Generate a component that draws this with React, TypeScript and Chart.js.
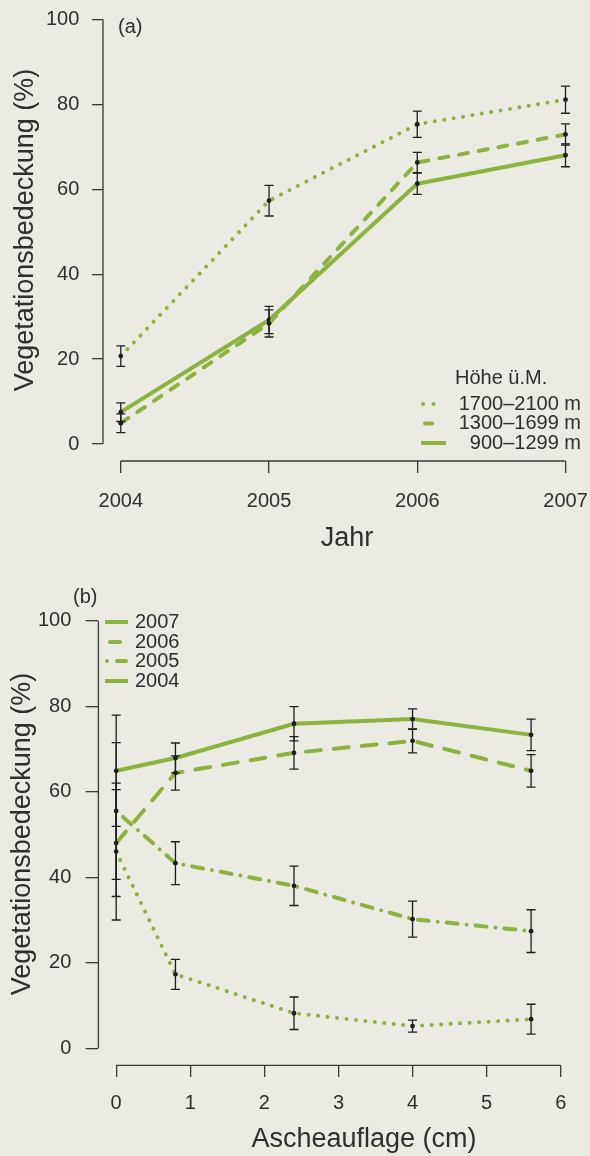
import React, { useEffect, useRef } from 'react';
import { Chart, registerables } from 'chart.js';

Chart.register(...registerables);

const FONT = "'Liberation Sans', Arial, Helvetica, sans-serif";
const GREEN = '#8cb33e';
const INK = '#2e2e2e';
const AXIS = '#3a3a3a';
const BG = '#ebebe4';

// ---------- Panel (a) data ----------
const years = [2004, 2005, 2006, 2007];
const yearTicks = [2004, 2005, 2006, 2007];
const coverTicks = [0, 20, 40, 60, 80, 100];
const altitudeLabels = ['1700–2100 m', '1300–1699 m', '900–1299 m'];
const highMean = [20.7, 57.3, 75.3, 81.1];
const highErr = [2.4, 3.6, 3.1, 3.2];
const midMean = [4.9, 28.4, 66.3, 72.9];
const midErr = [2.2, 3.2, 2.4, 2.5];
const lowMean = [7.5, 29.2, 61.3, 68.0];
const lowErr = [2.2, 3.2, 2.5, 2.7];

// ---------- Panel (b) data ----------
const ashCm = [0, 0.8, 2.4, 4.0, 5.6];
const ashTicks = [0, 1, 2, 3, 4, 5, 6];
const yearLabels = ['2007', '2006', '2005', '2004'];
const cover2007 = [64.9, 67.9, 75.9, 77.0, 73.3];
const err2007 = [13, 3.5, 4, 2.4, 3.7];
const cover2006 = [48.0, 64.4, 69.1, 71.9, 64.9];
const err2006 = [12.5, 4, 3.8, 2.8, 3.8];
const cover2005 = [55.5, 43.3, 38.0, 30.2, 27.4];
const err2005 = [16, 5, 4.6, 4.2, 5];
const cover2004 = [46.0, 17.3, 8.2, 5.2, 6.8];
const err2004 = [16, 3.5, 3.8, 1.4, 3.5];

const DOTTED = [0.01, 9.5];
const DASHED_A = [9, 11];
const DASHED_B = [15, 13];
const DOTDASH = [0.01, 9, 11, 9];

const errorBarPlugin = {
  id: 'errorBars',
  afterDatasetsDraw(chart: any) {
    const ctx = chart.ctx;
    const ys = chart.scales.y;
    ctx.save();
    ctx.strokeStyle = '#1e1e1e';
    ctx.lineWidth = 1.3;
    ctx.setLineDash([]);
    chart.data.datasets.forEach((ds: any, di: number) => {
      const errs = ds.errors;
      if (!errs) return;
      const meta = chart.getDatasetMeta(di);
      meta.data.forEach((pt: any, i: number) => {
        const v = ds.data[i].y;
        const top = ys.getPixelForValue(v + errs[i]);
        const bot = ys.getPixelForValue(v - errs[i]);
        const w = 4.5;
        ctx.beginPath();
        ctx.moveTo(pt.x, top);
        ctx.lineTo(pt.x, bot);
        ctx.moveTo(pt.x - w, top);
        ctx.lineTo(pt.x + w, top);
        ctx.moveTo(pt.x - w, bot);
        ctx.lineTo(pt.x + w, bot);
        ctx.stroke();
      });
    });
    ctx.restore();
  },
};

function sample(ctx: CanvasRenderingContext2D, x1: number, x2: number, y: number, dash: number[], cap: CanvasLineCap) {
  ctx.save();
  ctx.strokeStyle = GREEN;
  ctx.lineWidth = 4;
  ctx.lineCap = cap;
  ctx.setLineDash(dash);
  ctx.beginPath();
  ctx.moveTo(x1, y);
  ctx.lineTo(x2, y);
  ctx.stroke();
  ctx.restore();
}

const decoPlugin = {
  id: 'deco',
  afterDraw(chart: any, _args: any, opts: any) {
    const { ctx, chartArea } = chart;
    const xs = chart.scales.x;
    const ys = chart.scales.y;
    const xt = opts.xTicks;
    const yt = opts.yTicks;
    ctx.save();
    ctx.strokeStyle = AXIS;
    ctx.lineWidth = 1.3;
    ctx.setLineDash([]);
    ctx.beginPath();
    ctx.moveTo(chartArea.left, ys.getPixelForValue(yt[0]));
    ctx.lineTo(chartArea.left, ys.getPixelForValue(yt[yt.length - 1]));
    ctx.moveTo(xs.getPixelForValue(xt[0]), chartArea.bottom);
    ctx.lineTo(xs.getPixelForValue(xt[xt.length - 1]), chartArea.bottom);
    ctx.stroke();

    ctx.fillStyle = INK;
    ctx.font = `27px ${FONT}`;
    ctx.textAlign = 'center';
    ctx.textBaseline = 'alphabetic';
    ctx.fillText(opts.xTitle, opts.xTitlePos[0], opts.xTitlePos[1]);
    ctx.save();
    ctx.translate(opts.yTitlePos[0], opts.yTitlePos[1]);
    ctx.rotate(-Math.PI / 2);
    ctx.fillText(opts.yTitle, 0, 0);
    ctx.restore();

    ctx.font = `20px ${FONT}`;
    ctx.textAlign = 'left';
    ctx.textBaseline = 'middle';
    ctx.fillText(opts.panel, opts.panelPos[0], opts.panelPos[1]);

    opts.legend(ctx);
    ctx.restore();
  },
};

function axisScale(min: number, max: number, ticksArr: number[], opts: any) {
  return {
    type: 'linear',
    min,
    max,
    bounds: 'data',
    afterBuildTicks: (s: any) => {
      s.ticks = ticksArr.map((v) => ({ value: v }));
    },
    afterFit: opts.afterFit,
    grid: {
      display: true,
      drawOnChartArea: false,
      drawTicks: true,
      tickLength: opts.tickLength,
      color: AXIS,
      lineWidth: 1.3,
    },
    border: { display: false },
    ticks: {
      padding: opts.padding,
      color: INK,
      autoSkip: false,
      maxRotation: 0,
      font: { family: FONT, size: 20 },
      callback: (v: any) => String(v),
    },
    title: { display: false },
  };
}

function lineDs(label: string, xs: number[], ys: number[], errs: number[], dash: number[], cap: string) {
  return {
    label,
    data: xs.map((x, i) => ({ x, y: ys[i] })),
    errors: errs,
    borderColor: GREEN,
    borderWidth: 4,
    borderDash: dash,
    borderCapStyle: cap,
    borderJoinStyle: 'round',
    tension: 0,
    fill: false,
    pointRadius: 2.4,
    pointBackgroundColor: '#1e1e1e',
    pointBorderWidth: 0,
    pointHoverRadius: 2.4,
  };
}

function configA(): any {
  return {
    type: 'line',
    data: {
      datasets: [
        lineDs(altitudeLabels[0], years, highMean, highErr, DOTTED, 'round'),
        lineDs(altitudeLabels[1], years, midMean, midErr, DASHED_A, 'round'),
        lineDs(altitudeLabels[2], years, lowMean, lowErr, [], 'butt'),
      ],
    },
    options: {
      responsive: false,
      animation: false,
      events: [],
      layout: { padding: { top: 2, left: 0, right: 6.7, bottom: 19 } },
      scales: {
        x: axisScale(2003.88, 2007.12, yearTicks, {
          tickLength: 12,
          padding: 16,
          afterFit: (s: any) => {
            s.height = 100;
            s.paddingLeft = 0;
            s.paddingRight = 0;
          },
        }),
        y: axisScale(-4, 104, coverTicks, {
          tickLength: 11,
          padding: 12.7,
          afterFit: (s: any) => {
            s.width = 103;
            s.paddingTop = 0;
            s.paddingBottom = 0;
          },
        }),
      },
      plugins: {
        legend: { display: false },
        tooltip: { enabled: false },
        deco: {
          xTicks: yearTicks,
          yTicks: coverTicks,
          xTitle: 'Jahr',
          xTitlePos: [347, 546],
          yTitle: 'Vegetationsbedeckung (%)',
          yTitlePos: [33, 230],
          panel: '(a)',
          panelPos: [118, 27],
          legend: (ctx: CanvasRenderingContext2D) => {
            ctx.fillStyle = INK;
            ctx.font = `20px ${FONT}`;
            ctx.textBaseline = 'middle';
            ctx.textAlign = 'left';
            ctx.fillText('Höhe ü.M.', 455, 378.5);
            ctx.textAlign = 'right';
            const rows = [404, 423.5, 443];
            altitudeLabels.forEach((t, i) => ctx.fillText(t, 581, rows[i]));
            sample(ctx, 423, 444, rows[0], [0.01, 10.5], 'round');
            sample(ctx, 425, 432, rows[1], [], 'round');
            sample(ctx, 421, 446, rows[2], [], 'butt');
          },
        },
      },
    },
    plugins: [errorBarPlugin, decoPlugin],
  };
}

function configB(): any {
  return {
    type: 'line',
    data: {
      datasets: [
        lineDs(yearLabels[0], ashCm, cover2007, err2007, [], 'butt'),
        lineDs(yearLabels[1], ashCm, cover2006, err2006, DASHED_B, 'round'),
        lineDs(yearLabels[2], ashCm, cover2005, err2005, DOTDASH, 'round'),
        lineDs(yearLabels[3], ashCm, cover2004, err2004, DOTTED, 'round'),
      ],
    },
    options: {
      responsive: false,
      animation: false,
      events: [],
      layout: { padding: { top: 23.6, left: 0, right: 11.5, bottom: 0 } },
      scales: {
        x: axisScale(-0.24, 6.24, ashTicks, {
          tickLength: 11.5,
          padding: 15,
          afterFit: (s: any) => {
            s.height = 90.6;
            s.paddingLeft = 0;
            s.paddingRight = 0;
          },
        }),
        y: axisScale(-4, 104, coverTicks, {
          tickLength: 12.8,
          padding: 14.3,
          afterFit: (s: any) => {
            s.width = 98.4;
            s.paddingTop = 0;
            s.paddingBottom = 0;
          },
        }),
      },
      plugins: {
        legend: { display: false },
        tooltip: { enabled: false },
        deco: {
          xTicks: ashTicks,
          yTicks: coverTicks,
          xTitle: 'Ascheauflage (cm)',
          xTitlePos: [364, 567],
          yTitle: 'Vegetationsbedeckung (%)',
          yTitlePos: [30, 254],
          panel: '(b)',
          panelPos: [73, 17.5],
          legend: (ctx: CanvasRenderingContext2D) => {
            ctx.fillStyle = INK;
            ctx.font = `20px ${FONT}`;
            ctx.textBaseline = 'middle';
            ctx.textAlign = 'left';
            const rows = [42, 62, 81, 101];
            yearLabels.forEach((t, i) => ctx.fillText(t, 135, rows[i]));
            sample(ctx, 105, 128, rows[0], [], 'butt');
            sample(ctx, 110, 120, rows[1], [], 'round');
            sample(ctx, 107, 107.01, rows[2], [], 'round');
            sample(ctx, 117, 126, rows[2], [], 'round');
            sample(ctx, 105, 128, rows[3], [], 'butt');
          },
        },
      },
    },
    plugins: [errorBarPlugin, decoPlugin],
  };
}

export default function App() {
  const refA = useRef<HTMLCanvasElement>(null);
  const refB = useRef<HTMLCanvasElement>(null);
  useEffect(() => {
    const a = new Chart(refA.current as HTMLCanvasElement, configA());
    const b = new Chart(refB.current as HTMLCanvasElement, configB());
    return () => {
      a.destroy();
      b.destroy();
    };
  }, []);
  return (
    <div
      style={{
        position: 'absolute',
        left: 0,
        top: 0,
        width: 590,
        height: 1156,
        background: BG,
        overflow: 'hidden',
      }}
    >
      <canvas
        ref={refA}
        width={590}
        height={580}
        style={{ position: 'absolute', left: 0, top: 0, width: 590, height: 580 }}
      />
      <canvas
        ref={refB}
        width={590}
        height={576}
        style={{ position: 'absolute', left: 0, top: 580, width: 590, height: 576 }}
      />
    </div>
  );
}
